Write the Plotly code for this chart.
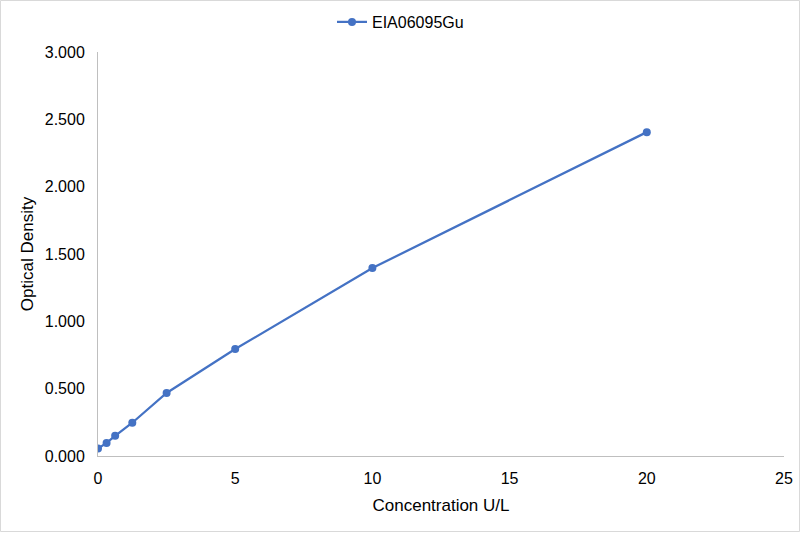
import plotly.graph_objects as go

# standard curve data
concentration = [0, 0.3125, 0.625, 1.25, 2.5, 5, 10, 20]
optical_density = [0.055, 0.097, 0.150, 0.247, 0.468, 0.794, 1.396, 2.405]
series_name = "EIA06095Gu"

x_ticks = [0, 5, 10, 15, 20, 25]
y_ticks = [0, 0.5, 1.0, 1.5, 2.0, 2.5, 3.0]
y_labels = ["0.000", "0.500", "1.000", "1.500", "2.000", "2.500", "3.000"]

W, H = 801, 533
L, R, T, B = 98, 17, 52, 77
pw, ph = W - L - R, H - T - B

fig = go.Figure()
fig.add_trace(
    go.Scatter(
        x=concentration,
        y=optical_density,
        mode="lines+markers",
        name=series_name,
        line=dict(color="#4472C4", width=2.25),
        marker=dict(color="#4472C4", size=8),
    )
)

tick_font = dict(family="Liberation Sans, Arial, sans-serif", size=16, color="#000000")
title_font = dict(family="Liberation Sans, Arial, sans-serif", size=17, color="#000000")

fig.update_layout(
    width=W,
    height=H,
    margin=dict(l=L, r=R, t=T, b=B, autoexpand=False),
    paper_bgcolor="white",
    plot_bgcolor="white",
    font=tick_font,
    showlegend=True,
    legend=dict(
        orientation="h",
        xref="container",
        yref="container",
        x=0.5,
        xanchor="center",
        y=1 - 22 / H,
        yanchor="middle",
        bgcolor="rgba(0,0,0,0)",
        font=tick_font,
    ),
    xaxis=dict(
        range=[0, 25],
        tickvals=x_ticks,
        showgrid=False,
        zeroline=False,
        showline=True,
        linecolor="#BFBFBF",
        linewidth=1,
        ticks="",
        ticklabelstandoff=8,
        tickfont=tick_font,
        title=dict(text="Concentration U/L", font=title_font, standoff=12),
    ),
    yaxis=dict(
        range=[0, 3.0],
        tickvals=y_ticks,
        ticktext=y_labels,
        showgrid=False,
        zeroline=False,
        showline=True,
        linecolor="#BFBFBF",
        linewidth=1,
        ticks="",
        ticklabelstandoff=9,
        tickfont=tick_font,
        title=dict(text="Optical Density", font=title_font, standoff=6),
    ),
)

# light frame around the whole chart
fig.add_shape(
    type="rect",
    xref="paper",
    yref="paper",
    x0=(0.5 - L) / pw,
    x1=(799.5 - L) / pw,
    y0=(H - B - 531.5) / ph,
    y1=(H - B - 0.5) / ph,
    line=dict(color="#D9D9D9", width=1),
    layer="below",
)

fig.write_html(
    "out.html",
    config={"displayModeBar": False},
    post_script="document.body.style.margin='0';",
)
